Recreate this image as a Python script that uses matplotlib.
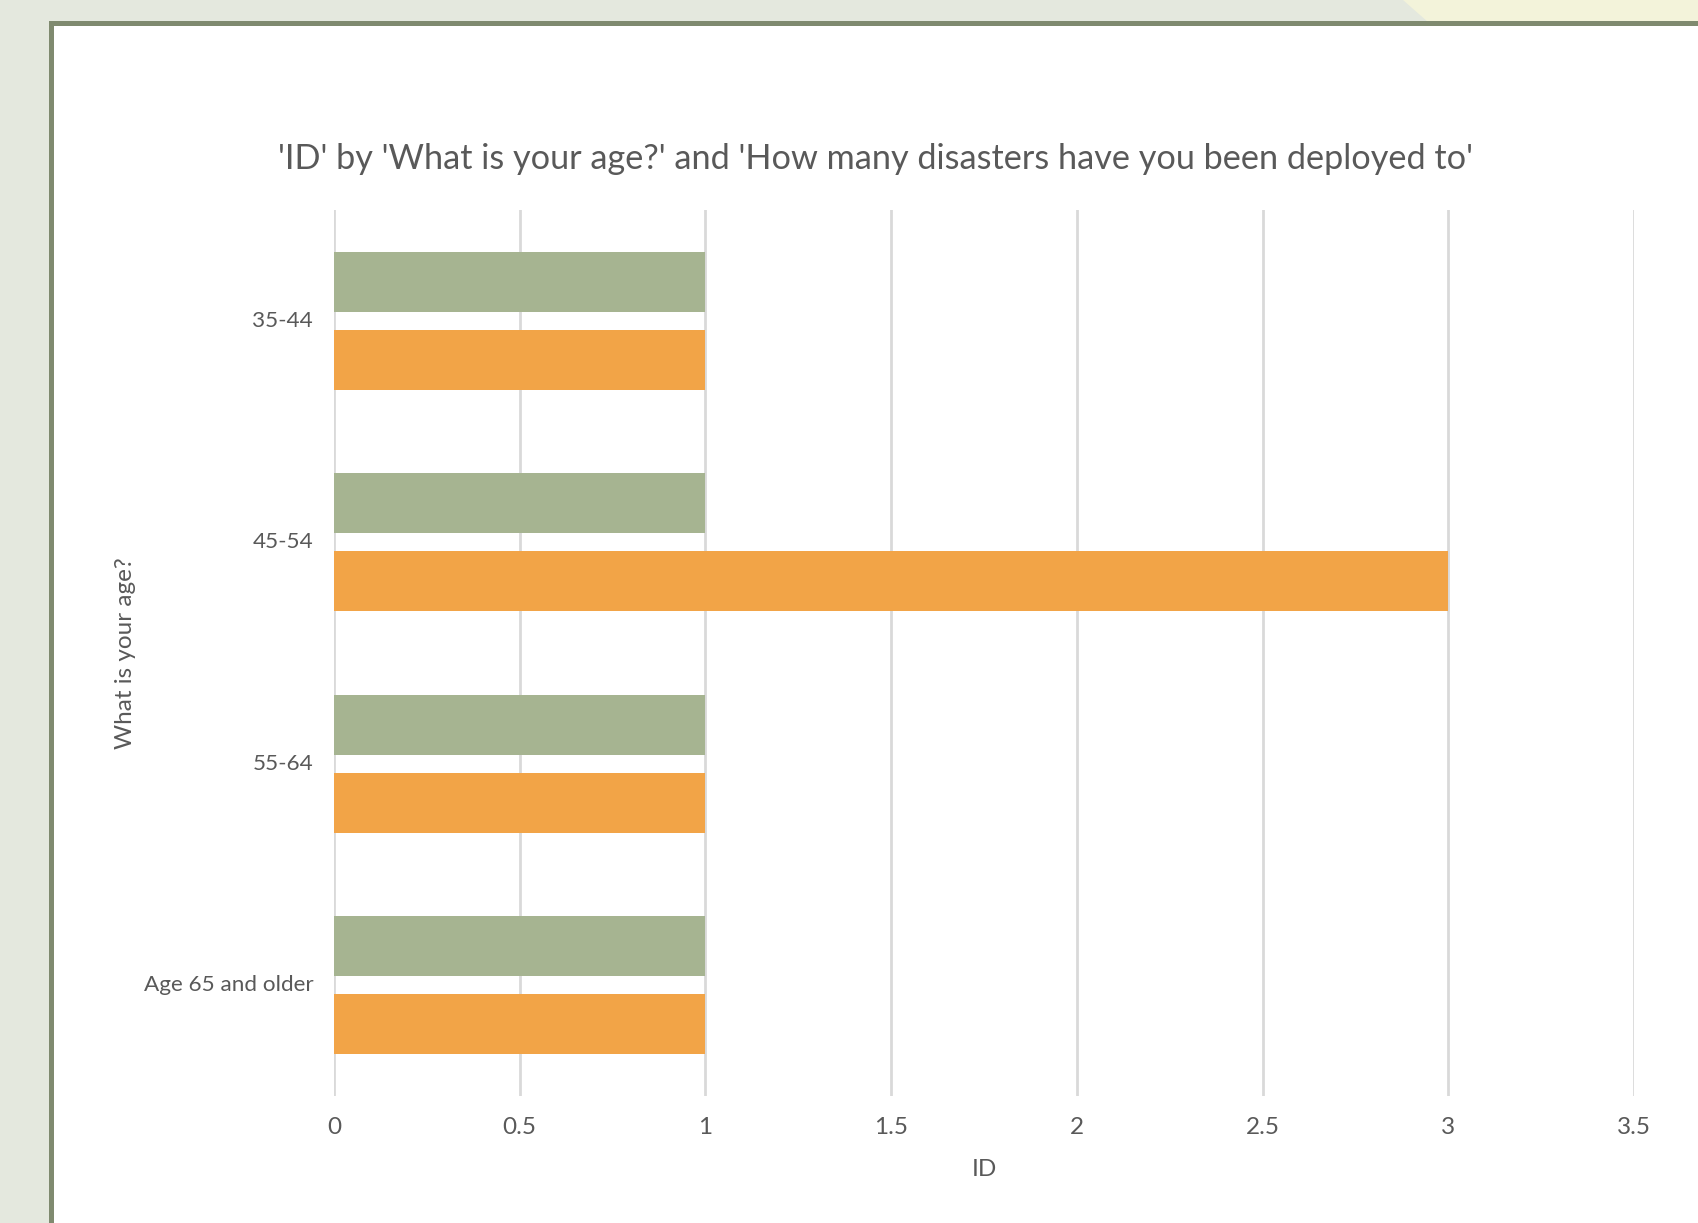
import matplotlib
matplotlib.use("Agg")
import matplotlib.pyplot as plt
from matplotlib.patches import Rectangle, Polygon
import numpy as np

# data
age_groups = ["35-44", "45-54", "55-64", "Age 65 and older"]
series_a = [1, 1, 1, 1]   # green
series_b = [1, 3, 1, 1]   # orange
x_ticks = [0, 0.5, 1, 1.5, 2, 2.5, 3, 3.5]
x_tick_labels = ["0", "0.5", "1", "1.5", "2", "2.5", "3", "3.5"]

GREEN = "#a6b491"
ORANGE = "#f2a447"
TEXT = "#595959"
GRID = "#d9d9d9"

W, H = 1698, 1223
plt.rcParams["font.family"] = ["Lato", "DejaVu Sans"]

fig = plt.figure(figsize=(W / 100, H / 100), dpi=100)
fig.patch.set_facecolor("#e4e8de")


def fx(px):
    return px / W


def fy(py):
    return 1 - py / H


# slide decoration: cream triangle top right, green frame, white card
fig.patches.append(Polygon([(fx(1403), fy(0)), (fx(1698), fy(0)), (fx(1698), fy(260)),
                            ], closed=True, transform=fig.transFigure,
                           facecolor="#f3f3da", edgecolor="none", zorder=0))
fig.patches.append(Rectangle((fx(49), 0), 1 - fx(49), fy(21), transform=fig.transFigure,
                             facecolor="#7f8a6f", edgecolor="none", zorder=1))
fig.patches.append(Rectangle((fx(54), 0), 1 - fx(54), fy(26), transform=fig.transFigure,
                             facecolor="white", edgecolor="none", zorder=2))

ax = fig.add_axes([fx(334), fy(1096), fx(1634) - fx(334), fy(210) - fy(1096)])
ax.set_zorder(5)
ax.set_facecolor("none")

y = np.arange(len(age_groups))
h = 0.271
off = 0.176
ax.barh(y - off, series_a, height=h, color=GREEN, zorder=3)
ax.barh(y + off, series_b, height=h, color=ORANGE, zorder=3)

ax.set_ylim(len(age_groups) - 0.5, -0.5)
ax.set_xlim(0, 3.5)
ax.set_xticks(x_ticks)
ax.set_xticklabels(x_tick_labels)
ax.set_yticks(y)
ax.set_yticklabels(age_groups)

ax.grid(axis="x", color=GRID, linewidth=2, zorder=0)
ax.grid(axis="y", visible=False)
for s in ax.spines.values():
    s.set_visible(False)
ax.tick_params(axis="both", length=0, labelsize=17.5, colors=TEXT)
ax.tick_params(axis="x", pad=15)
ax.tick_params(axis="y", pad=15, labelsize=16.2)
for lbl in ax.get_yticklabels():
    lbl.set_verticalalignment("center")

fig.text(fx(984), fy(1169), "ID", ha="center", va="center", fontsize=17.5, color=TEXT)
fig.text(fx(126), fy(653), "What is your age?", ha="center", va="center",
         rotation=90, fontsize=17.5, color=TEXT)
fig.text(fx(875), fy(159),
         "'ID' by 'What is your age?' and 'How many disasters have you been deployed to'",
         ha="center", va="center", fontsize=24.7, color=TEXT)

fig.savefig("out.png", dpi=100, facecolor=fig.get_facecolor())
